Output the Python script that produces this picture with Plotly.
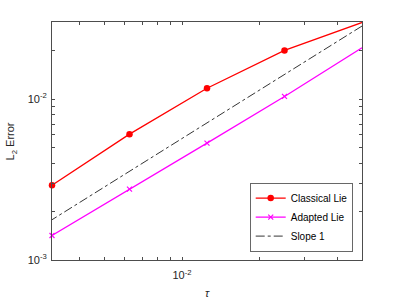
import plotly.graph_objects as go
import math

tau = [0.05, 0.025, 0.0125, 0.00625, 0.003125]
classical = [0.0300, 0.0201, 0.0117, 0.00606, 0.00292]
adapted = [0.0209, 0.0104, 0.00533, 0.00276, 0.00142]
slope1 = [0.0285, 0.01425, 0.007125, 0.0035625, 0.00178]

xticks = [0.01]
xtick_text = ["10<sup>-2</sup>"]
yticks = [0.001, 0.01]
ytick_text = ["10<sup>-3</sup>", "10<sup>-2</sup>"]
xminor = [0.004, 0.005, 0.006, 0.007, 0.008, 0.009, 0.02, 0.03, 0.04]
yminor = [0.002, 0.003, 0.004, 0.005, 0.006, 0.007, 0.008, 0.009, 0.02, 0.03]

font = "Liberation Sans, Arial, sans-serif"
axcol = "#4d4d4d"

fig = go.Figure()
fig.add_trace(go.Scatter(x=tau, y=classical, mode="lines+markers", name="Classical Lie",
                         line=dict(color="#ff0000", width=1.3),
                         marker=dict(symbol="circle", size=6.5, color="#ff0000"),
                         cliponaxis=False))
fig.add_trace(go.Scatter(x=tau, y=adapted, mode="lines+markers", name="Adapted Lie",
                         line=dict(color="#ff00ff", width=1.3),
                         marker=dict(symbol="x-thin", size=5, line=dict(color="#ff00ff", width=1.2)),
                         cliponaxis=False))
fig.add_trace(go.Scatter(x=tau, y=slope1, mode="lines", name="Slope 1",
                         line=dict(color="#000000", width=0.8, dash="dashdot")))

axis_common = dict(type="log", showgrid=False, zeroline=False, showline=True, linecolor=axcol,
                   linewidth=1, mirror="ticks", ticks="inside", ticklen=3, tickcolor=axcol,
                   tickfont=dict(family=font, size=11, color="#262626"))

fig.update_xaxes(range=[math.log10(0.003125), math.log10(0.05)], tickvals=xticks, ticktext=xtick_text,
                 minor=dict(tickvals=xminor, ticks="inside", ticklen=3, tickcolor=axcol),
                 ticklabelstandoff=5, **axis_common)
fig.update_yaxes(range=[-3, math.log10(0.0302)], tickvals=yticks, ticktext=ytick_text,
                 minor=dict(tickvals=yminor, ticks="inside", ticklen=3, tickcolor=axcol),
                 ticklabelstandoff=2, **axis_common)

fig.add_annotation(text="<i>τ</i>", xref="paper", yref="paper", x=0.5, y=-0.138,
                   showarrow=False, font=dict(family=font, size=11, color="#262626"),
                   xanchor="center", yanchor="middle")
fig.add_annotation(text="L<sub>2</sub> Error", xref="paper", yref="paper", x=-0.131, y=0.5,
                   showarrow=False, textangle=-90, font=dict(family=font, size=11, color="#262626"),
                   xanchor="center", yanchor="middle")

fig.update_layout(width=399, height=299, margin=dict(l=52, r=37, t=22, b=39),
                  plot_bgcolor="white", paper_bgcolor="white",
                  showlegend=True,
                  legend=dict(x=0.971, y=0.034, xanchor="right", yanchor="bottom",
                              bgcolor="white", bordercolor="#262626", borderwidth=0.7,
                              font=dict(family=font, size=10, color="#000000"),
                              itemwidth=30, tracegroupgap=0))

fig.write_html("out.html", config={"displayModeBar": False},
               post_script="document.body.style.margin='0';document.body.style.overflow='hidden';")
